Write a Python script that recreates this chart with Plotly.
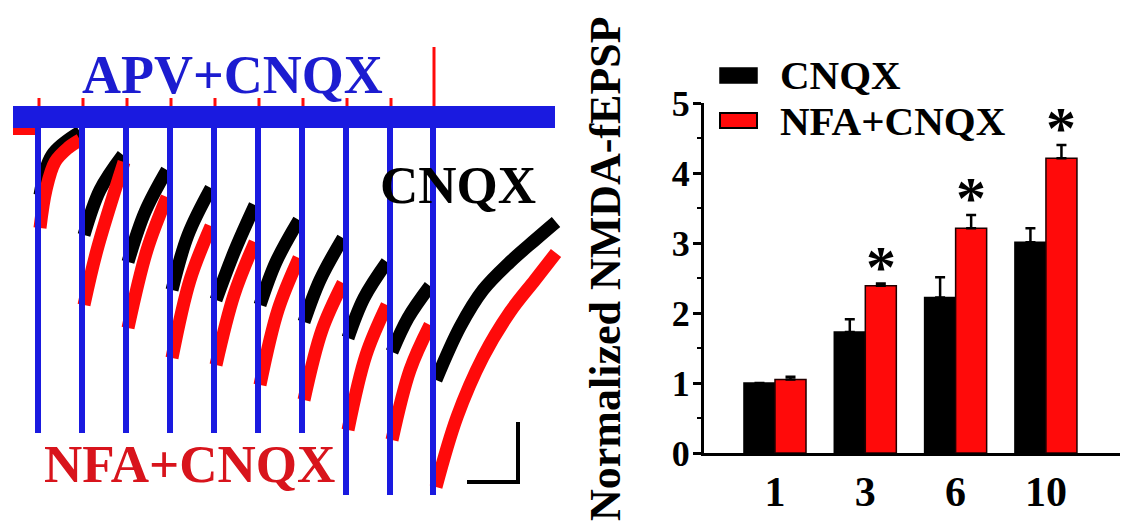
import plotly.graph_objects as go

# ---------------- Left panel: field-potential traces -------------
stim_t = [38, 82, 126, 170, 214, 258, 302, 346, 390, 433]
stim_depth = [433, 433, 433, 433, 433, 433, 433, 495, 495, 495]
red_artifact_top = [98, 98, 98, 98, 98, 98, 98, 98, 98, 47]
trace_start, trace_end = 13, 555
blue_baseline = 117
black_baseline = 117
red_baseline = 130

black_seg_t = [[40, 52, 80], [84, 100, 123], [128, 145, 167], [172, 188, 211], [216, 235, 255],
               [260, 276, 299], [304, 320, 343], [348, 364, 387], [392, 408, 430],
               [436, 460, 483, 510, 535, 556]]
black_seg_v = [[195, 155, 132], [235, 190, 155], [262, 212, 170], [290, 235, 188], [300, 250, 205],
               [305, 262, 220], [322, 280, 238], [338, 298, 262], [352, 318, 286],
               [380, 327, 290, 262, 240, 222]]

red_seg_t = [[40, 46, 55, 68, 80], [84, 97, 124], [128, 147, 167], [172, 190, 211], [216, 234, 255],
             [260, 278, 299], [304, 322, 343], [348, 366, 387], [392, 410, 430],
             [436, 457, 483, 510, 535, 556]]
red_seg_v = [[228, 190, 162, 148, 140], [305, 250, 162], [328, 250, 197], [358, 280, 226], [365, 295, 242],
             [385, 310, 258], [400, 330, 283], [430, 355, 305], [440, 370, 325],
             [487, 417, 357, 312, 280, 253]]

# ---------------- Right panel: bar chart ----------------
train_pulses = ["1", "3", "6", "10"]
cnqx_mean = [1.00, 1.73, 2.22, 3.01]
cnqx_sem = [0.00, 0.18, 0.29, 0.20]
nfa_mean = [1.05, 2.39, 3.21, 4.21]
nfa_sem = [0.04, 0.03, 0.19, 0.19]
significant = [False, True, True, True]

BLUE = "#1a1ae0"
RED = "#ff0a0a"
TXT_RED = "#d8141c"
FONT = "Liberation Serif"


def join_segments(ts, vs):
    xs, ys = [], []
    for t, v in zip(ts, vs):
        xs += list(t) + [None]
        ys += list(v) + [None]
    return xs, ys


fig = go.Figure()

# black trace (CNQX)
bx, by = join_segments(black_seg_t, black_seg_v)
fig.add_trace(go.Scatter(x=[trace_start, stim_t[0]], y=[black_baseline, black_baseline], mode="lines",
                         line=dict(color="black", width=12), xaxis="x", yaxis="y", showlegend=False))
fig.add_trace(go.Scatter(x=bx, y=by, mode="lines", line=dict(color="black", width=13, shape="spline"),
                         xaxis="x", yaxis="y", showlegend=False))
# red trace (NFA+CNQX)
rx, ry = join_segments(red_seg_t, red_seg_v)
fig.add_trace(go.Scatter(x=[trace_start, stim_t[0]], y=[red_baseline, red_baseline], mode="lines",
                         line=dict(color=RED, width=10), xaxis="x", yaxis="y", showlegend=False))
fig.add_trace(go.Scatter(x=rx, y=ry, mode="lines", line=dict(color=RED, width=13, shape="spline"),
                         xaxis="x", yaxis="y", showlegend=False))
# red stimulus artifacts (upward)
ax, ay = [], []
for t, top in zip(stim_t, red_artifact_top):
    ax += [t + 1, t + 1, None]
    ay += [blue_baseline, top, None]
fig.add_trace(go.Scatter(x=ax, y=ay, mode="lines", line=dict(color=RED, width=3),
                         xaxis="x", yaxis="y", showlegend=False))
# blue trace (APV+CNQX)
fig.add_trace(go.Scatter(x=[trace_start, trace_end], y=[blue_baseline, blue_baseline], mode="lines",
                         line=dict(color=BLUE, width=22), xaxis="x", yaxis="y", showlegend=False))
vx, vy = [], []
for t, d in zip(stim_t, stim_depth):
    vx += [t, t, None]
    vy += [blue_baseline, d, None]
fig.add_trace(go.Scatter(x=vx, y=vy, mode="lines", line=dict(color=BLUE, width=6),
                         xaxis="x", yaxis="y", showlegend=False))

# bars
fig.add_trace(go.Bar(x=train_pulses, y=cnqx_mean, name="CNQX",
                     marker=dict(color="black", line=dict(color="black", width=1.5)),
                     error_y=dict(type="data", array=cnqx_sem, arrayminus=[0] * 4, symmetric=False,
                                  color="black", thickness=2.5, width=5),
                     xaxis="x2", yaxis="y2", showlegend=False))
fig.add_trace(go.Bar(x=train_pulses, y=nfa_mean, name="NFA+CNQX",
                     marker=dict(color=RED, line=dict(color="#200000", width=1.5)),
                     error_y=dict(type="data", array=nfa_sem, arrayminus=[0] * 4, symmetric=False,
                                  color="black", thickness=2.5, width=5),
                     xaxis="x2", yaxis="y2", showlegend=False))

annotations = []
shapes = []
# asterisks
for i, (cat, m, s, sig) in enumerate(zip(train_pulses, nfa_mean, nfa_sem, significant)):
    if sig:
        annotations.append(dict(x=i + 0.17, y=m + s, xref="x2", yref="y2", text="*", showarrow=False,
                                yanchor="bottom", yshift=-18,
                                font=dict(family=FONT, size=60, color="black", weight="bold")))

# trace labels
annotations += [
    dict(x=232, y=75, xref="x", yref="y", text="APV+CNQX", showarrow=False, xanchor="center", yanchor="middle",
         font=dict(family=FONT, size=54, color="#1c1cd0", weight="bold")),
    dict(x=458, y=185, xref="x", yref="y", text="CNQX", showarrow=False, xanchor="center", yanchor="middle",
         font=dict(family=FONT, size=53, color="black", weight="bold")),
    dict(x=189, y=464, xref="x", yref="y", text="NFA+CNQX", showarrow=False, xanchor="center", yanchor="middle",
         font=dict(family=FONT, size=53, color=TXT_RED, weight="bold")),
    # legend texts
    dict(x=778, y=75, xref="x", yref="y", text="CNQX", showarrow=False, xanchor="left", yanchor="middle",
         font=dict(family=FONT, size=41, color="black", weight="bold")),
    dict(x=778, y=121, xref="x", yref="y", text="NFA+CNQX", showarrow=False, xanchor="left", yanchor="middle",
         font=dict(family=FONT, size=41, color="black", weight="bold")),
    # y axis title
    dict(x=605, y=269, xref="x", yref="y", text="Normalized NMDA-fEPSP", showarrow=False, textangle=-90,
         xanchor="center", yanchor="middle",
         font=dict(family=FONT, size=44, color="black", weight="bold")),
]
# legend swatches and scale bar
shapes += [
    dict(type="rect", x0=720, x1=757, y0=68, y1=83, xref="x", yref="y", fillcolor="black",
         line=dict(color="black", width=1.5)),
    dict(type="rect", x0=720, x1=757, y0=113, y1=128, xref="x", yref="y", fillcolor=RED,
         line=dict(color="black", width=2)),
    dict(type="line", x0=518, x1=518, y0=422, y1=484, xref="x", yref="y", line=dict(color="black", width=4)),
    dict(type="line", x0=467, x1=520, y0=482, y1=482, xref="x", yref="y", line=dict(color="black", width=4)),
]

W, H = 1122, 529
fig.update_layout(
    template="none",
    width=W, height=H, margin=dict(l=0, r=0, t=0, b=0, pad=0, autoexpand=False),
    paper_bgcolor="white", plot_bgcolor="rgba(0,0,0,0)", showlegend=False,
    barmode="group", bargap=0.313, bargroupgap=0,
    annotations=annotations, shapes=shapes,
    xaxis=dict(domain=[0, 1], range=[0, W], visible=False, fixedrange=True, automargin=False),
    yaxis=dict(domain=[0, 1], range=[H, 0], visible=False, fixedrange=True, automargin=False),
    xaxis2=dict(domain=[704 / W, 1120 / W], range=[-0.786, 3.82], anchor="y2", type="category",
                showline=True, linecolor="black", linewidth=3, ticks="", showgrid=False, zeroline=False,
                automargin=False,
                tickfont=dict(family=FONT, size=42, color="black", weight="bold")),
    yaxis2=dict(domain=[(H - 453) / H, (H - 103) / H], range=[0, 5], anchor="x2",
                showline=True, linecolor="black", linewidth=3, ticks="outside", ticklen=8, tickwidth=3,
                tickcolor="black", dtick=1, showgrid=False, zeroline=False, automargin=False,
                minor=dict(dtick=0.5, ticks="outside", ticklen=4, tickwidth=2, tickcolor="black"),
                tickfont=dict(family=FONT, size=36, color="black", weight="bold")),
)
try:
    fig.update_layout(yaxis2_ticklabelstandoff=-4)
except Exception:
    pass

fig.write_html("out.html")
